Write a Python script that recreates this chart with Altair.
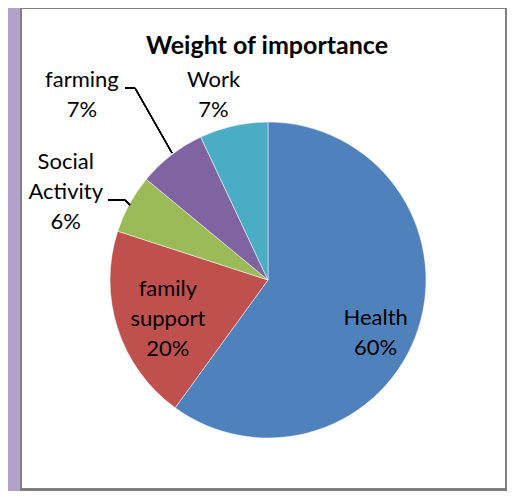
import altair as alt
import pandas as pd

categories = ["Health", "family support", "Social Activity", "farming", "Work"]
values = [60, 20, 6, 7, 7]
label_text = ["Health\n60%", "family\nsupport\n20%", "Social\nActivity\n6%", "farming\n7%", "Work\n7%"]
colors = ["#4F81BD", "#C0504D", "#9BBB59", "#8064A2", "#4BACC6"]
title_text = "Weight of importance"

df = pd.DataFrame({"category": categories, "value": values, "label": label_text,
                   "order": list(range(len(categories)))})
cum = df["value"].cumsum()
df["mid"] = cum - df["value"] / 2

W, H = 499, 483
CX, CY, R = 260, 272, 158
FONT = "Lato"

theta_scale = alt.Scale(domain=[0, 100])
color_scale = alt.Scale(domain=categories, range=colors)

base = alt.Chart(df)

# frame panel
shadow = base.mark_rect(color="#7f7f7f").encode(
    x=alt.value(12), x2=alt.value(499), y=alt.value(0), y2=alt.value(483))
panel = base.mark_rect(color="white").encode(
    x=alt.value(14), x2=alt.value(497), y=alt.value(1), y2=alt.value(480))

pie = base.mark_arc(outerRadius=R, stroke="white", strokeWidth=0.5).encode(
    theta=alt.Theta("value:Q", stack=True, scale=theta_scale),
    color=alt.Color("category:N", scale=color_scale, legend=None),
    order=alt.Order("order:Q"),
    x=alt.value(CX), y=alt.value(CY),
)

# label placement per slice (radius, dx, dy) -- position of first text line
placement = {
    "Health": (110, 3, 4),
    "family support": (100, -5, -22),
    "Social Activity": (200, -27, -22),
    "farming": (240, -39, -10),
    "Work": (190, -13, -15),
}

label_layers = []
for cat, (rad, dx, dy) in placement.items():
    label_layers.append(
        base.transform_filter(alt.datum.category == cat).mark_text(
            radius=rad, dx=dx, dy=dy, font=FONT, fontSize=22, lineHeight=30,
            lineBreak="\n", align="center", baseline="middle", color="black",
        ).encode(
            theta=alt.Theta("mid:Q", stack=None, scale=theta_scale),
            text="label:N",
            x=alt.value(CX), y=alt.value(CY),
        )
    )

leader_color = "black"
leaders = [
    base.mark_rule(color=leader_color, strokeWidth=1.3).encode(
        x=alt.value(117), x2=alt.value(127), y=alt.value(80), y2=alt.value(80)),
    base.mark_rule(color=leader_color, strokeWidth=1.3).encode(
        x=alt.value(127), x2=alt.value(164), y=alt.value(80), y2=alt.value(145)),
    base.mark_rule(color=leader_color, strokeWidth=1.3).encode(
        x=alt.value(100), x2=alt.value(117), y=alt.value(192), y2=alt.value(192)),
    base.mark_rule(color=leader_color, strokeWidth=1.3).encode(
        x=alt.value(117), x2=alt.value(122), y=alt.value(192), y2=alt.value(197)),
]

title = alt.Chart(pd.DataFrame({"t": [title_text]})).mark_text(
    font=FONT, fontSize=25, fontWeight="bold", align="center", baseline="middle",
    color="black").encode(text="t:N", x=alt.value(259), y=alt.value(38))

chart = alt.layer(shadow, panel, pie, *leaders, *label_layers, title).properties(
    width=W, height=H, background="#B3A2C7", padding=0,
    autosize=alt.AutoSizeParams(type="none"),
).configure_view(stroke=None)

chart.save("out.html", embed_options={"renderer": "svg", "actions": False})
